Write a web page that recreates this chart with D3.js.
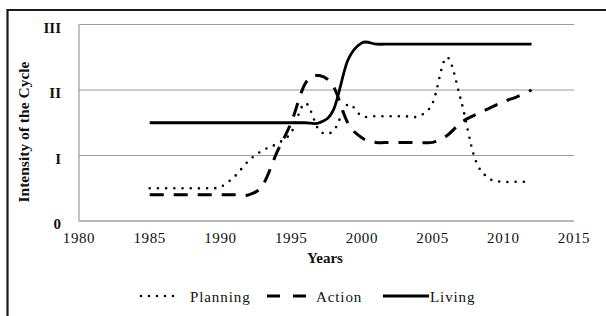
<!DOCTYPE html>
<html>
<head>
<meta charset="utf-8">
<script src="https://cdn.jsdelivr.net/npm/d3@7"></script>
<style>
	body { margin: 0; background: #fff; }
	svg { display: block; }
	text { font-family: "Liberation Serif", "Times New Roman", serif; fill: #111; }
</style>
</head>
<body>
<div id="chart"></div>
<script>
// yearly values
const years = d3.range(1985, 2013);
const planning = [0.5, 0.5, 0.5, 0.5, 0.5, 0.52, 0.68, 0.92, 1.08, 1.18, 1.35, 1.8, 1.38, 1.38,
	1.78, 1.6, 1.6, 1.6, 1.6, 1.6, 1.8, 2.5, 1.85, 0.95, 0.65, 0.6, 0.6, 0.6];
const action = [0.4, 0.4, 0.4, 0.4, 0.4, 0.4, 0.4, 0.4, 0.55, 1.05, 1.5, 2.1, 2.22, 2.05,
	1.5, 1.27, 1.2, 1.2, 1.2, 1.2, 1.2, 1.3, 1.5, 1.62, 1.72, 1.82, 1.9, 2.0];
const living = [1.5, 1.5, 1.5, 1.5, 1.5, 1.5, 1.5, 1.5, 1.5, 1.5, 1.5, 1.5, 1.5, 1.7,
	2.45, 2.72, 2.7, 2.7, 2.7, 2.7, 2.7, 2.7, 2.7, 2.7, 2.7, 2.7, 2.7, 2.7];
const xTicks = [1980, 1985, 1990, 1995, 2000, 2005, 2010, 2015];
const yTicks = [0, 1, 2, 3];
const yTickLabels = ["0", "I", "II", "III"];
const seriesNames = ["Planning", "Action", "Living"];

const w = 606, h = 316;
const x = d3.scaleLinear().domain([1980, 2015]).range([79, 574]);
const y = d3.scaleLinear().domain([0, 3]).range([221, 24.5]);

const svg = d3.select("#chart").append("svg")
	.attr("width", w)
	.attr("height", h);

// outer frame (runs off the right and bottom edges)
svg.append("path")
	.attr("d", `M7.5,${h + 5}V10H${w + 5}`)
	.attr("fill", "none")
	.attr("stroke", "#1a1a1a")
	.attr("stroke-width", 2.2);

// grid
svg.append("g")
	.selectAll("line")
	.data(yTicks.slice(1))
	.join("line")
	.attr("x1", x(1980)).attr("x2", x(2015))
	.attr("y1", d => y(d)).attr("y2", d => y(d))
	.attr("stroke", "#9a9a9a")
	.attr("stroke-width", 1);

svg.append("line")
	.attr("x1", x(1980)).attr("x2", x(2015))
	.attr("y1", y(0)).attr("y2", y(0))
	.attr("stroke", "#b8b8b8")
	.attr("stroke-width", 1.8);

svg.append("line")
	.attr("x1", x(1980)).attr("x2", x(1980))
	.attr("y1", y(3)).attr("y2", y(0))
	.attr("stroke", "#9a9a9a")
	.attr("stroke-width", 1.2);

// axis labels
svg.append("g")
	.selectAll("text")
	.data(yTicks)
	.join("text")
	.attr("x", 61)
	.attr("y", d => y(d) + 8)
	.attr("text-anchor", "end")
	.style("font-size", "15px")
	.style("font-weight", "bold")
	.text((d, i) => yTickLabels[i]);

svg.append("g")
	.selectAll("text")
	.data(xTicks)
	.join("text")
	.attr("x", d => x(d))
	.attr("y", 243)
	.attr("text-anchor", "middle")
	.style("font-size", "15px")
	.style("letter-spacing", "0.6px")
	.text(d => d);

svg.append("text")
	.attr("x", 325)
	.attr("y", 263)
	.attr("text-anchor", "middle")
	.style("font-size", "15px")
	.style("font-weight", "bold")
	.text("Years");

svg.append("text")
	.attr("transform", "translate(29,132) rotate(-90)")
	.attr("text-anchor", "middle")
	.attr("textLength", 141)
	.attr("lengthAdjust", "spacingAndGlyphs")
	.style("font-size", "14px")
	.style("font-weight", "bold")
	.text("Intensity of the Cycle");

// series
const styles = [
	{dash: "0,8.2", width: 2.6, cap: "round"},
	{dash: "14,10", width: 3, cap: "butt"},
	{dash: null, width: 2.8, cap: "butt"}
];
const legendDash = ["0,8", "13,13", null];
const data = [planning, action, living];

const line = d3.line()
	.x((d, i) => x(years[i]))
	.y(d => y(d))
	.curve(d3.curveCardinal.tension(0));

svg.append("g")
	.selectAll("path")
	.data(data)
	.join("path")
	.attr("d", line)
	.attr("fill", "none")
	.attr("stroke", "#000")
	.attr("stroke-width", (d, i) => styles[i].width)
	.attr("stroke-linecap", (d, i) => styles[i].cap)
	.attr("stroke-dasharray", (d, i) => styles[i].dash);

// legend
const legendX = [141, 267, 383];
const legendLen = [40, 40, 46];
const legend = svg.append("g")
	.selectAll("g")
	.data(seriesNames)
	.join("g")
	.attr("transform", (d, i) => `translate(${legendX[i]},296)`);

legend.append("line")
	.attr("x1", 0)
	.attr("x2", (d, i) => legendLen[i])
	.attr("stroke", "#000")
	.attr("stroke-width", (d, i) => styles[i].width)
	.attr("stroke-linecap", (d, i) => styles[i].cap)
	.attr("stroke-dasharray", (d, i) => legendDash[i]);

legend.append("text")
	.attr("x", (d, i) => legendLen[i] + (i === 2 ? 1 : 9))
	.attr("y", 6)
	.style("font-size", "15px")
	.style("letter-spacing", "0.9px")
	.text(d => d);
</script>
</body>
</html>
